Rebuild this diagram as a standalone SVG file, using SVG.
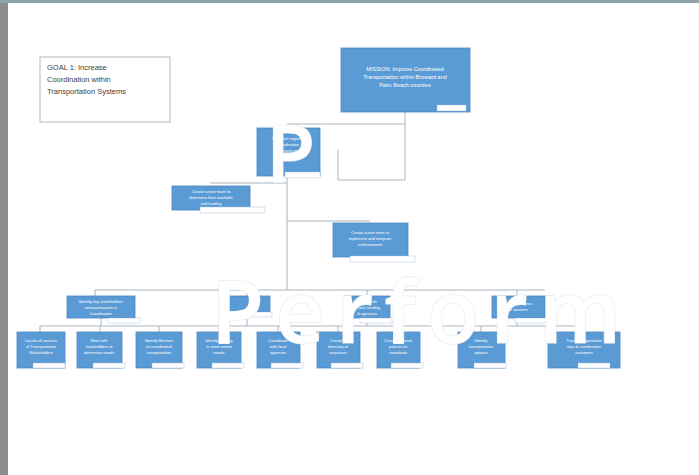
<svg xmlns="http://www.w3.org/2000/svg" width="699" height="475" viewBox="0 0 699 475">
<style>
.n{fill:#5b9bd5;stroke:#4a86c0;stroke-width:0.8}
.lb{fill:#ffffff;stroke:#9ab8d6;stroke-width:0.4}
.t{font-family:"Liberation Sans",Arial,sans-serif;fill:#ffffff;text-anchor:middle}
.s{font-size:5.5px}
.x{font-size:4px}
.g{font-family:"Liberation Sans",Arial,sans-serif;font-size:7.5px;fill:#404040}
.c{fill:none;stroke:#a9b4bf;stroke-width:1}
.big{font-family:"Open Sans","Liberation Sans",sans-serif;font-weight:600;fill:#ffffff;stroke:#e4e7ea;stroke-width:1.2;paint-order:stroke}
</style>
<rect x="0" y="0" width="699" height="475" fill="#ffffff"/>
<rect x="0" y="0" width="8" height="475" fill="#8c8c8c"/>
<rect x="0" y="0" width="699" height="3" fill="#8fa4a8"/>
<g id="connectors">
<path class="c" d="M405 112V180M287 124H405M338 150V180H405"/>
<path class="c" d="M287 176V290M210 183H287M287 221H370"/>
<path class="c" d="M95 290H545M95 290V296M247 290V296M367 290V296M517 290V296"/>
<path class="c" d="M40 326H585M40 326V332M100 326V332M159 326V332M219 326V332M278 326V332M338 326V332M398 326V332M481 326V332M584 326V332"/>
<path class="c" d="M101 318V326M247 312V326M367 318V326M517 318V326"/>
</g>
<g id="goal">
<rect x="40" y="57" width="130" height="65" fill="#ffffff" stroke="#b7b7b7" stroke-width="1"/>
<text class="g" x="47" y="70">GOAL 1: Increase</text>
<text class="g" x="47" y="82">Coordination within</text>
<text class="g" x="47" y="94">Transportation Systems</text>
</g>
<g id="mission">
<rect class="n" x="341" y="48" width="129" height="64"/>
<text class="t s" x="405" y="71">MISSION: Improve Coordinated</text>
<text class="t s" x="405" y="79">Transportation within Broward and</text>
<text class="t s" x="405" y="87">Palm Beach counties</text>
<rect class="lb" x="437" y="105" width="29" height="6"/>
</g>
<g id="nodeA">
<rect class="n" x="257" y="128" width="63" height="48"/>
<text class="t x" x="288" y="140">Establish regional</text>
<text class="t x" x="288" y="146">coordination</text>
<text class="t x" x="288" y="152">structure and</text>
<text class="t x" x="288" y="158">leadership</text>
<rect class="lb" x="285" y="172" width="35" height="6"/>
</g>
<g id="nodeB">
<rect class="n" x="172" y="186" width="78" height="24"/>
<text class="t x" x="211" y="193">Create action team to</text>
<text class="t x" x="211" y="199">determine fleet available</text>
<text class="t x" x="211" y="205">and funding</text>
<rect class="lb" x="200" y="207" width="65" height="6"/>
</g>
<g id="nodeC">
<rect class="n" x="333" y="223" width="75" height="34"/>
<text class="t x" x="370" y="234">Create action team to</text>
<text class="t x" x="370" y="240">implement and integrate</text>
<text class="t x" x="370" y="246">achievements</text>
<rect class="lb" x="350" y="256" width="65" height="6"/>
</g>
<g id="nodeD">
<rect class="n" x="67" y="296" width="68" height="22"/>
<text class="t x" x="101" y="303">Identify key stakeholders</text>
<text class="t x" x="101" y="309">and participants in</text>
<text class="t x" x="101" y="315">Coordination</text>
<rect class="lb" x="108" y="318" width="32" height="5"/>
</g>
<g id="nodeG">
<rect class="n" x="225" y="296" width="45" height="16"/>
<rect class="lb" x="240" y="312" width="32" height="5"/>
</g>
<g id="nodeE">
<rect class="n" x="345" y="296" width="45" height="22"/>
<text class="t x" x="367" y="303">Align goals</text>
<text class="t x" x="367" y="309">across funding</text>
<text class="t x" x="367" y="315">&amp; agencies</text>
<rect class="lb" x="360" y="318" width="32" height="5"/>
</g>
<g id="nodeF">
<rect class="n" x="492" y="296" width="53" height="22"/>
<text class="t x" x="518" y="305">Improve access</text>
<text class="t x" x="518" y="311">to services</text>
<rect class="lb" x="515" y="318" width="32" height="5"/>
</g>
<g id="l1">
<rect class="n" x="17" y="332" width="48" height="36"/>
<text class="t x" x="41" y="342">Locate all sources</text>
<text class="t x" x="41" y="348">of Transportation</text>
<text class="t x" x="41" y="354">Stakeholders</text>
<rect class="lb" x="33" y="363" width="32" height="5"/>
</g>
<g id="l2">
<rect class="n" x="77" y="332" width="45" height="36"/>
<text class="t x" x="99" y="342">Meet with</text>
<text class="t x" x="99" y="348">stakeholders to</text>
<text class="t x" x="99" y="354">determine needs</text>
<rect class="lb" x="93" y="363" width="32" height="5"/>
</g>
<g id="l3">
<rect class="n" x="136" y="332" width="46" height="36"/>
<text class="t x" x="159" y="342">Identify Barriers</text>
<text class="t x" x="159" y="348">to coordinated</text>
<text class="t x" x="159" y="354">transportation</text>
<rect class="lb" x="152" y="363" width="32" height="5"/>
</g>
<g id="l4">
<rect class="n" x="197" y="332" width="44" height="36"/>
<text class="t x" x="219" y="342">Identify funding</text>
<text class="t x" x="219" y="348">to meet unmet</text>
<text class="t x" x="219" y="354">needs</text>
<rect class="lb" x="212" y="363" width="32" height="5"/>
</g>
<g id="l5">
<rect class="n" x="257" y="332" width="43" height="36"/>
<text class="t x" x="278" y="342">Coordinate</text>
<text class="t x" x="278" y="348">with local</text>
<text class="t x" x="278" y="354">agencies</text>
<rect class="lb" x="271" y="363" width="32" height="5"/>
</g>
<g id="l6">
<rect class="n" x="317" y="332" width="43" height="36"/>
<text class="t x" x="338" y="342">Create a</text>
<text class="t x" x="338" y="348">directory of</text>
<text class="t x" x="338" y="354">resources</text>
<rect class="lb" x="331" y="363" width="32" height="5"/>
</g>
<g id="l7">
<rect class="n" x="377" y="332" width="43" height="36"/>
<text class="t x" x="398" y="342">Create regional</text>
<text class="t x" x="398" y="348">policies to</text>
<text class="t x" x="398" y="354">coordinate</text>
<rect class="lb" x="391" y="363" width="32" height="5"/>
</g>
<g id="l8">
<rect class="n" x="458" y="332" width="47" height="36"/>
<text class="t x" x="481" y="342">Identify</text>
<text class="t x" x="481" y="348">transportation</text>
<text class="t x" x="481" y="354">options</text>
<rect class="lb" x="474" y="363" width="32" height="5"/>
</g>
<g id="l9">
<rect class="n" x="548" y="332" width="72" height="36"/>
<text class="t x" x="584" y="342">Track transportation</text>
<text class="t x" x="584" y="348">trips &amp; coordination</text>
<text class="t x" x="584" y="354">outcomes</text>
<rect class="lb" x="578" y="363" width="32" height="5"/>
</g>
<g id="overlay">
<text class="big" x="266" y="182" font-size="80">P</text>
<text class="big" x="211" y="343" font-size="86" textLength="410" lengthAdjust="spacing">Perform</text>
</g>
</svg>
